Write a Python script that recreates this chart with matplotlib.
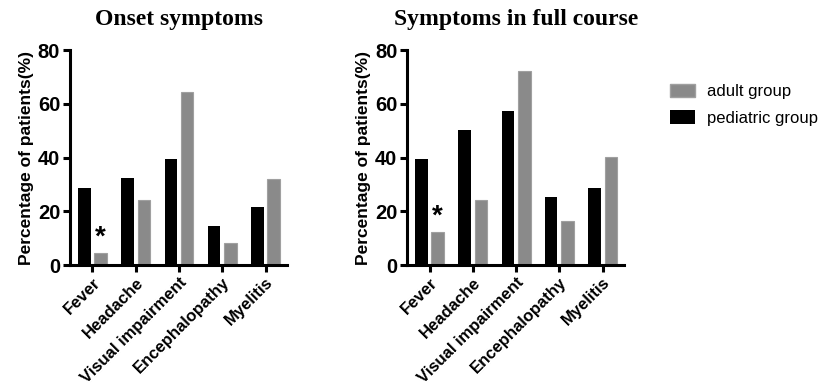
import numpy as np
import matplotlib
matplotlib.use("Agg")
import matplotlib.pyplot as plt
from matplotlib.patches import Patch

categories = ["Fever", "Headache", "Visual impairment", "Encephalopathy", "Myelitis"]

onset_pediatric = [28.8, 32.4, 39.4, 14.5, 21.7]
onset_adult = [4.3, 24.2, 64.3, 8.1, 32.2]

course_pediatric = [39.3, 50.1, 57.3, 25.2, 28.6]
course_adult = [12.2, 24.2, 72.2, 16.3, 40.2]

titles = ["Onset symptoms", "Symptoms in full course"]
star_index = 0  # Fever, adult group marked as significant

GREY = "#8a8a8a"
BLACK = "#000000"

plt.rcParams["font.family"] = ["Liberation Sans", "DejaVu Sans"]

fig = plt.figure(figsize=(8.29, 3.9), dpi=100)
ax1 = fig.add_axes([0.0844, 0.3205, 0.262, 0.551])
ax2 = fig.add_axes([0.491, 0.3205, 0.262, 0.551])

panels = [
    (ax1, onset_pediatric, onset_adult, titles[0]),
    (ax2, course_pediatric, course_adult, titles[1]),
]

x = np.arange(len(categories))
w = 0.29
off = 0.19

for ax, ped, adult, title in panels:
    ax.bar(x - off, ped, width=w, color=BLACK)
    ax.bar(x + off, adult, width=w, color=GREY, edgecolor="#a0a0a0", linewidth=0.8)
    ax.text(x[star_index] + off, adult[star_index] + 1.0, "*", ha="center", va="bottom",
            fontsize=20, fontweight="bold")

    ax.set_xlim(-0.52, 4.5)
    ax.set_ylim(0, 80)
    ax.set_yticks([0, 20, 40, 60, 80])
    ax.set_xticks(x)
    ax.set_xticklabels(categories, rotation=45, ha="right", rotation_mode="anchor",
                       fontsize=12, fontweight="bold")
    for lab in ax.get_yticklabels():
        lab.set_fontweight("bold")
        lab.set_fontsize(14.5)
    ax.set_ylabel("Percentage of patients(%)", fontsize=12.5, fontweight="bold", labelpad=3)
    ax.set_title(title, fontsize=17, fontweight="bold", family="Liberation Serif", pad=18)

    ax.spines["top"].set_visible(False)
    ax.spines["right"].set_visible(False)
    ax.spines["left"].set_linewidth(2.2)
    ax.spines["bottom"].set_linewidth(2.2)
    ax.tick_params(axis="both", width=2.2, length=5, pad=2)

handles = [Patch(facecolor=GREY, edgecolor="#a0a0a0", label="adult group"),
           Patch(facecolor=BLACK, label="pediatric group")]
fig.legend(handles=handles, loc="upper left", bbox_to_anchor=(0.792, 0.82),
           frameon=False, fontsize=12, handlelength=1.5, handleheight=0.9,
           handletextpad=0.7, labelspacing=0.65, borderpad=0.3)

fig.savefig("out.png", dpi=100)
